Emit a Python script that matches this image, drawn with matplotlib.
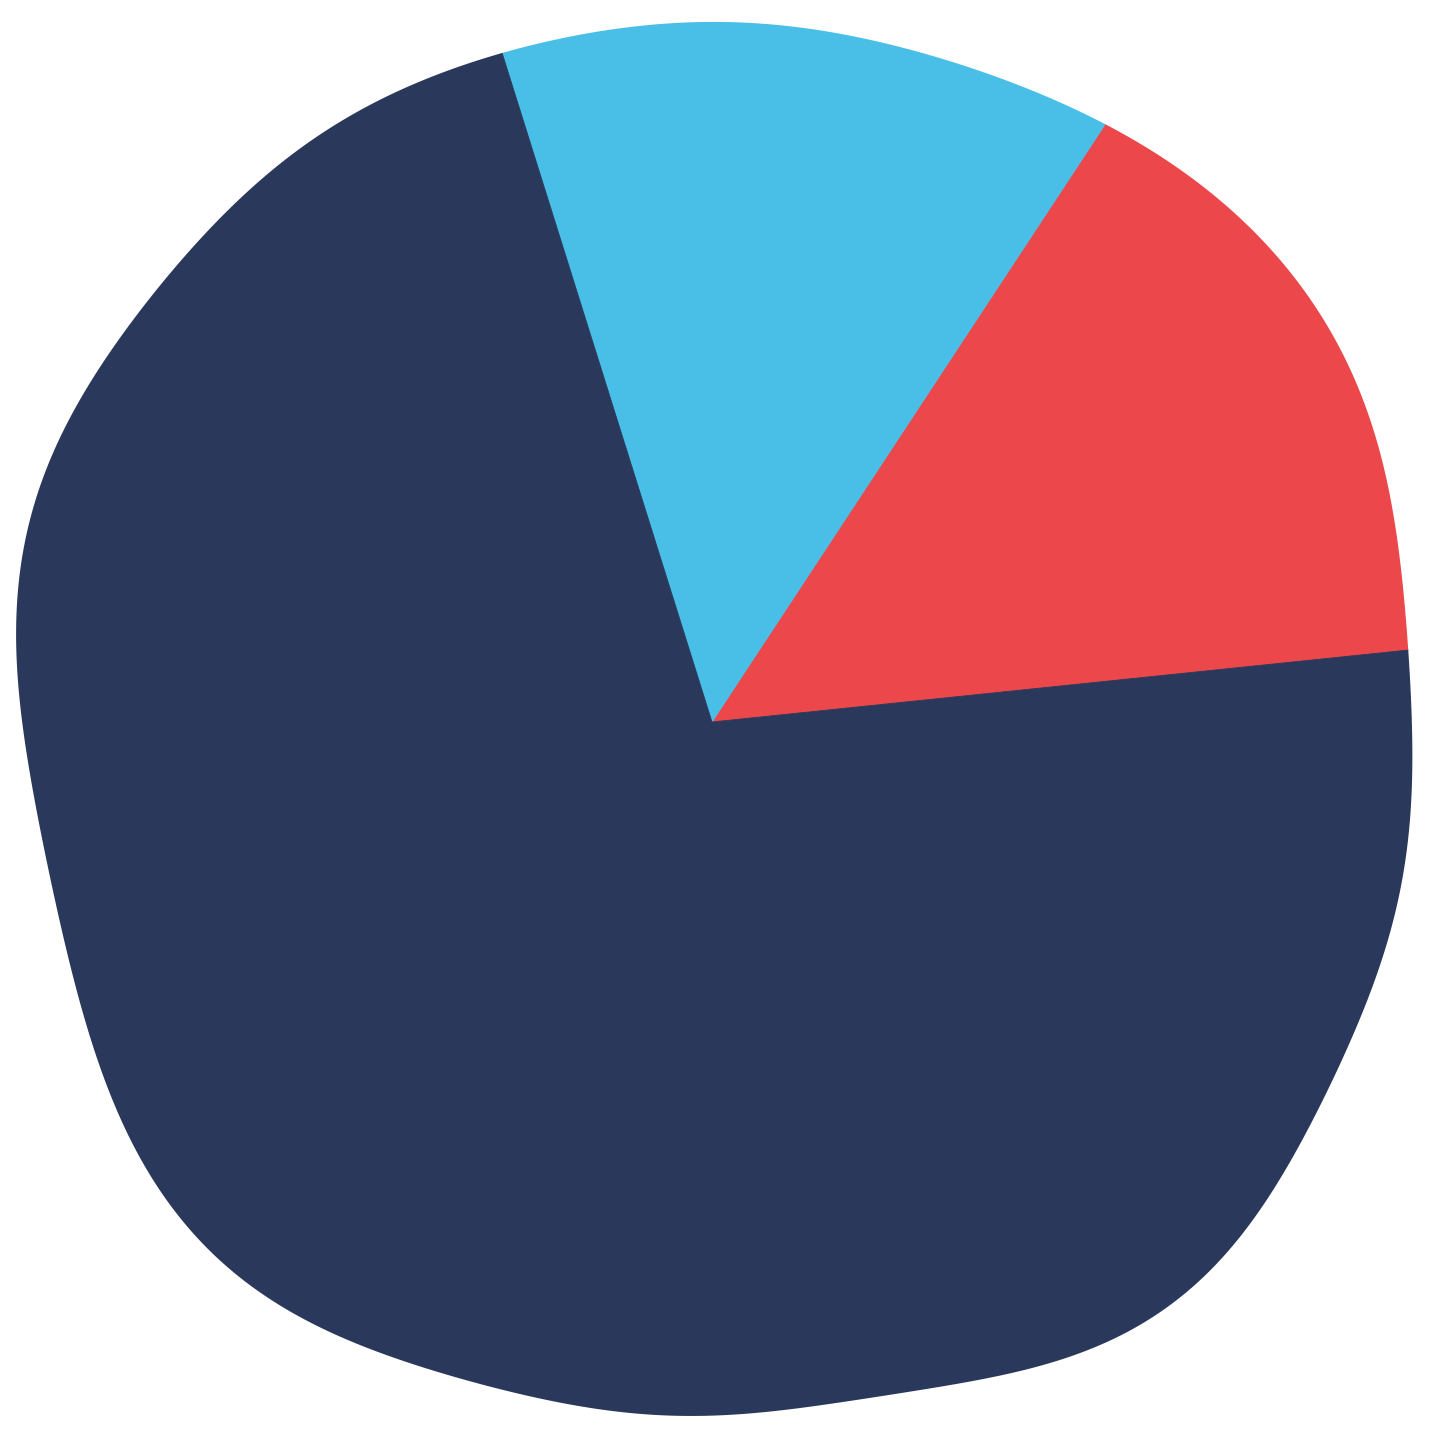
import numpy as np
import matplotlib
matplotlib.use("Agg")
import matplotlib.pyplot as plt
from matplotlib.path import Path
from matplotlib.patches import PathPatch

# slice data (share of the whole)
labels = ["Red", "Blue", "Navy"]
values = [14.1, 14.1, 71.8]
colors = ["#EC474A", "#49BFE8", "#29385B"]
start_angle = 5.9

# hand-drawn blob outline the pie is cut to (pixel positions, y down),
# traced clockwise from the red/navy edge on the right
blob_x = [1411, 1413, 1412, 1403, 1380, 1353, 1313, 1260, 1200, 1160, 1093,
          1027, 960, 813, 730, 680, 580, 480, 417, 350, 300, 233, 187, 147,
          113, 87, 68, 50, 37, 27, 18, 17, 23, 40, 87, 133, 187, 267, 367,
          480, 502, 580, 687, 780, 880, 960, 1027, 1107, 1193, 1260, 1327,
          1360, 1383, 1397]
blob_y = [651, 727, 780, 863, 960, 1043, 1120, 1207, 1280, 1313, 1347,
          1370, 1385, 1403, 1415, 1418, 1407, 1383, 1363, 1343, 1317, 1273,
          1227, 1167, 1100, 1027, 960, 880, 813, 747, 680, 613, 547, 480, 393,
          320, 253, 173, 107, 62, 53, 32, 22, 27, 43, 63, 87, 126, 180, 240,
          320, 387, 480, 547]
pie_center = (712, 722)

W = H = 1440


def smooth_outline(xs, ys, center, order=10, n_out=1440):
    """Least-squares fit of radius vs angle (short Fourier series) to the
    traced points, so small tracing errors do not show as facets."""
    dx = np.asarray(xs, float) - center[0]
    dy = np.asarray(ys, float) - center[1]
    theta = np.arctan2(dy, dx)
    r = np.hypot(dx, dy)

    def design(t):
        cols = [np.ones_like(t)]
        for k in range(1, order + 1):
            cols += [np.cos(k * t), np.sin(k * t)]
        return np.column_stack(cols)

    coef, *_ = np.linalg.lstsq(design(theta), r, rcond=None)
    t = np.linspace(-np.pi, np.pi, n_out, endpoint=False)
    rr = design(t) @ coef
    return center[0] + rr * np.cos(t), center[1] + rr * np.sin(t)


fig = plt.figure(figsize=(W / 100, H / 100), dpi=100)
ax = fig.add_axes([0, 0, 1, 1])

# flip to y-up so the pie runs counter-clockwise as usual
cy = H - pie_center[1]
ox, oy = smooth_outline(blob_x, [H - y for y in blob_y], (pie_center[0], cy))
ring = np.column_stack([ox, oy])
blob = Path(np.vstack([ring, ring[:1]]), closed=True)
clip = PathPatch(blob, facecolor="none", edgecolor="none")
ax.add_patch(clip)

wedges, _ = ax.pie(values, colors=colors, startangle=start_angle,
                   counterclock=True, radius=950,
                   center=(pie_center[0], cy),
                   frame=True, wedgeprops=dict(linewidth=0.6))
for w, c in zip(wedges, colors):
    w.set_edgecolor(c)
    w.set_clip_on(True)  # pie turns clipping off by default
    w.set_clip_path(clip)

ax.set_xlim(0, W)
ax.set_ylim(0, H)
ax.set_aspect("equal")
ax.axis("off")

fig.savefig("out.png", dpi=100, facecolor="white")
